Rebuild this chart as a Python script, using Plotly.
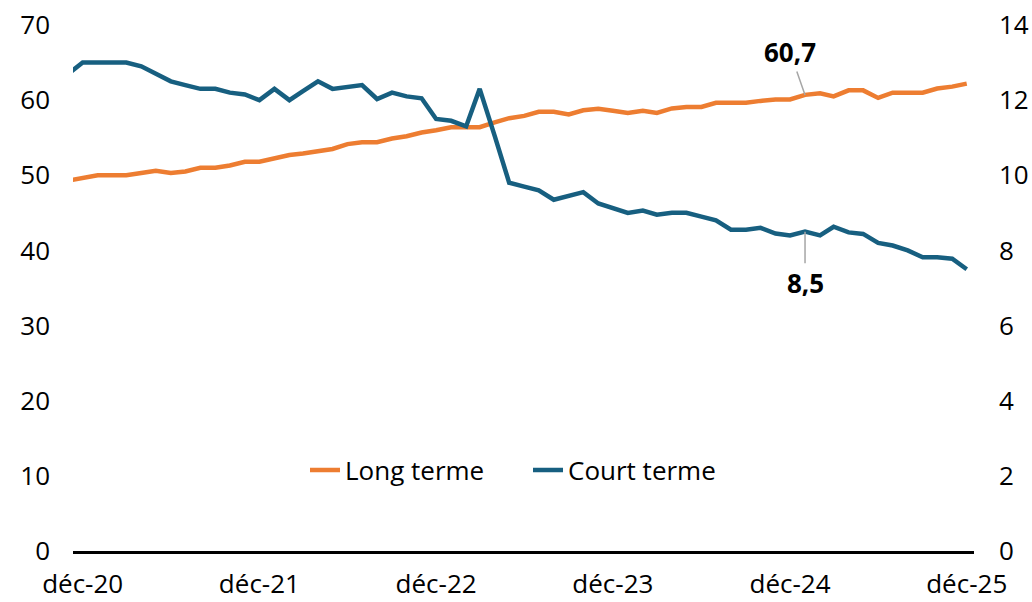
import pandas as pd
import plotly.graph_objects as go

# Monthly observations, nov-20 .. déc-25
months = pd.date_range("2020-11-01", periods=62, freq="MS")

long_terme = [
    49.3, 49.6, 50.0, 50.0, 50.0, 50.3, 50.6, 50.3, 50.5, 51.0, 51.0, 51.3, 51.8, 51.8,
    52.25, 52.7, 52.9, 53.2, 53.5, 54.15, 54.4, 54.4, 54.9, 55.2, 55.7, 56.0, 56.4, 56.4,
    56.4, 57.05, 57.6, 57.9, 58.45, 58.45, 58.1, 58.65, 58.85, 58.6, 58.3, 58.6, 58.3,
    58.9, 59.1, 59.1, 59.65, 59.65, 59.65, 59.9, 60.1, 60.1, 60.7, 60.9, 60.5, 61.3, 61.3,
    60.3, 61.0, 61.0, 61.0, 61.55, 61.8, 62.2,
]

court_terme = [
    12.7, 13.0, 13.0, 13.0, 13.0, 12.9, 12.7, 12.5, 12.4, 12.3, 12.3, 12.2, 12.15, 12.0,
    12.3, 12.0, 12.24, 12.5, 12.3, 12.35, 12.4, 12.03, 12.2, 12.1, 12.05, 11.5, 11.45,
    11.3, 12.3, 11.05, 9.8, 9.7, 9.6, 9.35, 9.45, 9.55, 9.25, 9.14, 9.0, 9.06, 8.95,
    9.0, 9.0, 8.9, 8.8, 8.55, 8.55, 8.6, 8.45, 8.4, 8.5, 8.4, 8.63, 8.48, 8.44, 8.2,
    8.13, 8.0, 7.82, 7.82, 7.78, 7.5,
]

tick_dates = ["2020-12-01", "2021-12-01", "2022-12-01", "2023-12-01", "2024-12-01", "2025-12-01"]
tick_labels = ["déc-20", "déc-21", "déc-22", "déc-23", "déc-24", "déc-25"]

label_date = "2025-01-01"
label_long = 60.7
label_court = 8.5

ORANGE = "#ED7D31"
BLUE = "#175F80"
FONT = "Open Sans"
FS = 26

fig = go.Figure()
fig.add_trace(go.Scatter(x=months, y=long_terme, name="Long terme", mode="lines",
                         line=dict(color=ORANGE, width=4.5), yaxis="y"))
fig.add_trace(go.Scatter(x=months, y=court_terme, name="Court terme", mode="lines",
                         line=dict(color=BLUE, width=4.5), yaxis="y2"))

fig.add_annotation(x=label_date, y=label_long, xref="x", yref="y",
                   text="<b>" + f"{label_long:.1f}".replace(".", ",") + "</b>",
                   showarrow=True, arrowhead=0, arrowwidth=1.5, arrowcolor="#A6A6A6",
                   ax=-15, ay=-43, standoff=0,
                   font=dict(family=FONT, size=FS, color="black"))
fig.add_annotation(x=label_date, y=label_court, xref="x", yref="y2",
                   text="<b>" + f"{label_court:.1f}".replace(".", ",") + "</b>",
                   showarrow=True, arrowhead=0, arrowwidth=1.5, arrowcolor="#A6A6A6",
                   ax=0, ay=51, standoff=0,
                   font=dict(family=FONT, size=FS, color="black"))

fig.update_layout(
    width=1032, height=602,
    margin=dict(l=73, r=58, t=25, b=51, autoexpand=False),
    paper_bgcolor="white", plot_bgcolor="white",
    font=dict(family=FONT, size=FS, color="black"),
    showlegend=True,
    legend=dict(orientation="h", x=0.2575, y=0.154, xanchor="left", yanchor="middle",
                entrywidth=178, entrywidthmode="pixels",
                font=dict(family=FONT, size=FS, color="black"), bgcolor="rgba(0,0,0,0)"),
    xaxis=dict(type="date", range=["2020-11-11", "2025-12-16"],
               tickvals=tick_dates, ticktext=tick_labels,
               showgrid=False, zeroline=False, ticks="", automargin=False,
               showline=True, linecolor="black", linewidth=3,
               ticklabelstandoff=8),
    yaxis=dict(range=[0, 70], dtick=10, tick0=0, showgrid=False, zeroline=False,
               ticks="", showline=False, ticklabelstandoff=22, automargin=False),
    yaxis2=dict(range=[0, 14], dtick=2, tick0=0, overlaying="y", side="right",
                showgrid=False, zeroline=False, ticks="", showline=False,
                ticklabelstandoff=24, automargin=False),
)

fig.write_html("out.html",
               config={"displayModeBar": False},
               post_script="document.body.style.margin='0px';document.body.style.padding='0px';")
